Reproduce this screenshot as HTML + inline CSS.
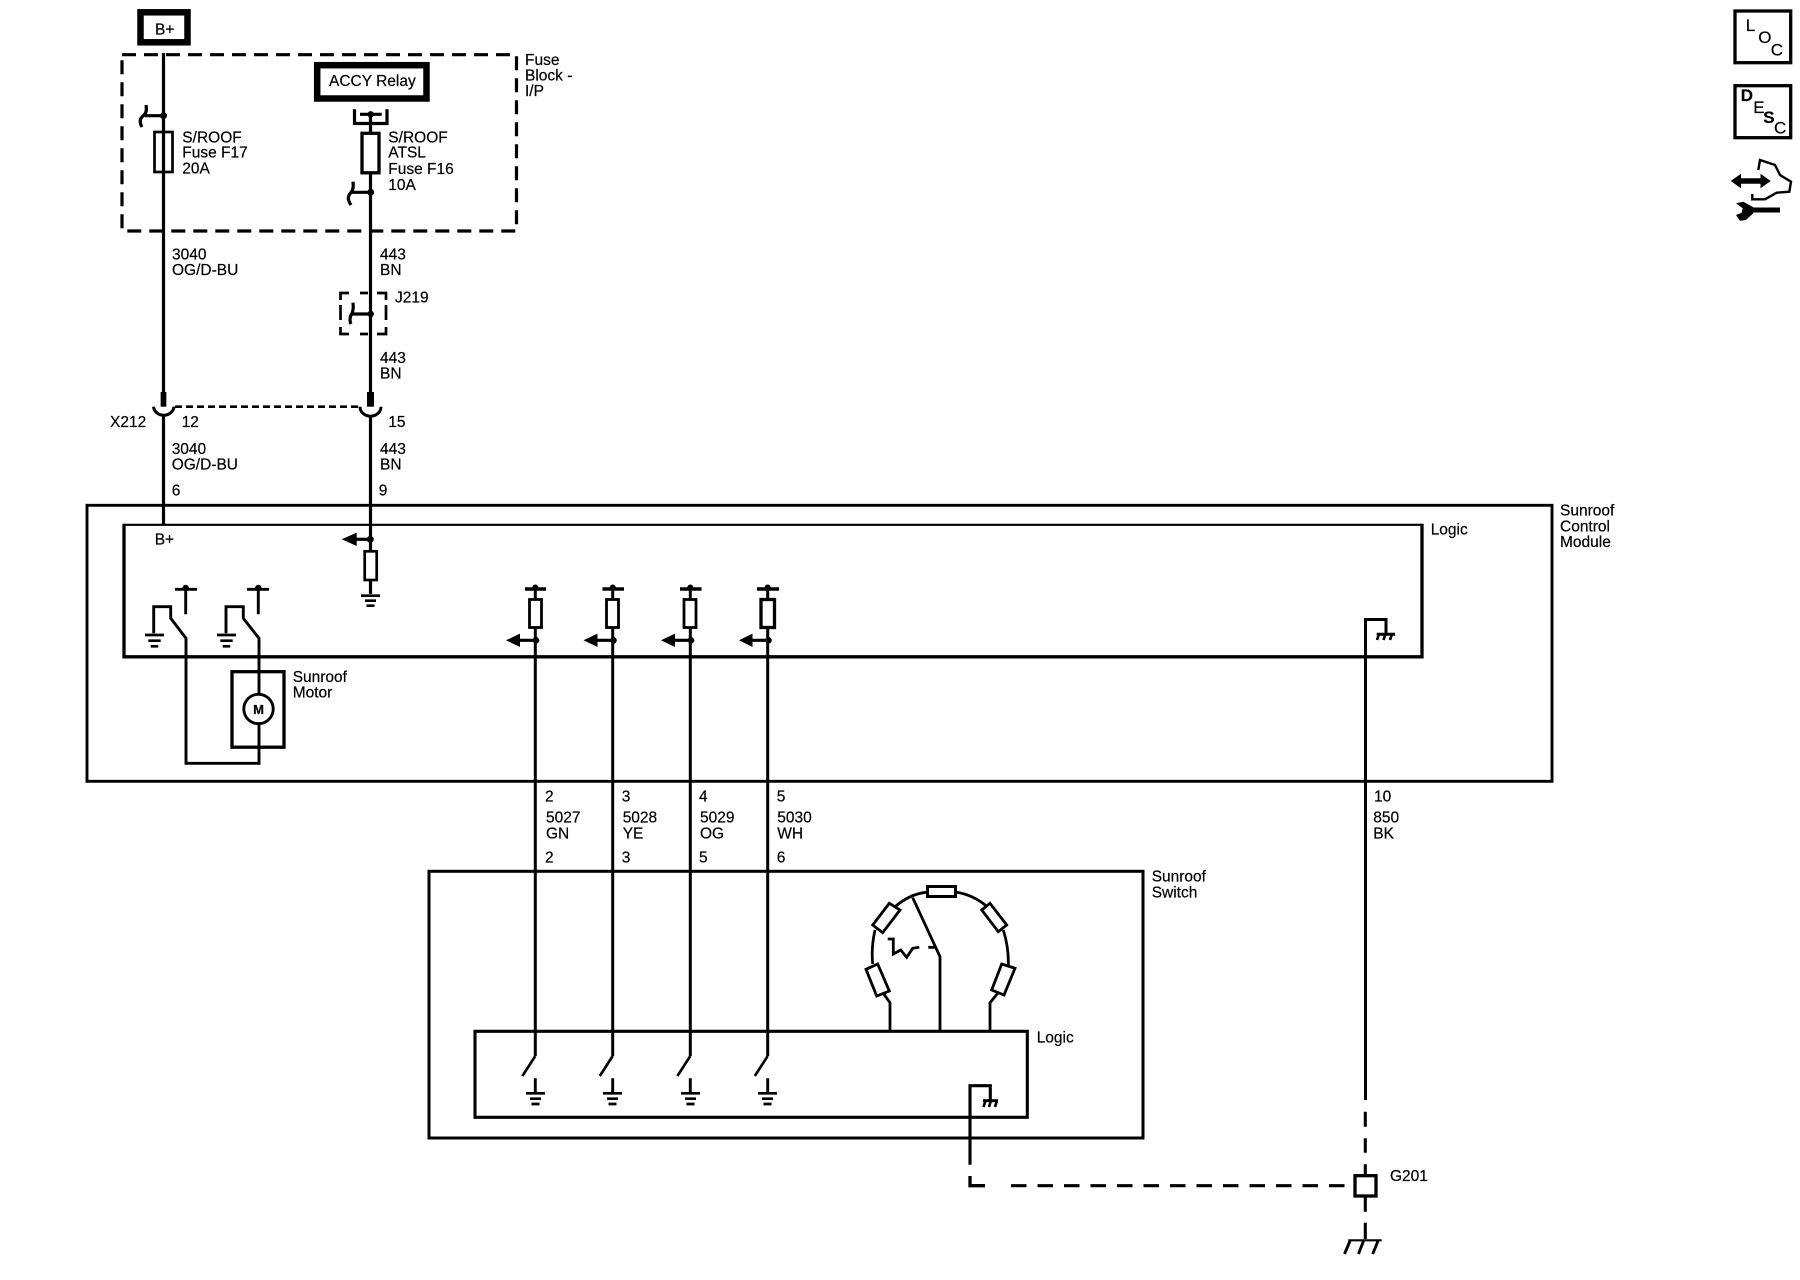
<!DOCTYPE html>
<html><head><meta charset="utf-8"><style>
html,body{margin:0;padding:0;background:#fff;}
svg{display:block;}
text{font-family:"Liberation Sans",sans-serif;font-size:15.5px;fill:#000;stroke:#000;stroke-width:.2px;}
</style></head><body>
<svg width="1800" height="1280" viewBox="0 0 1800 1280" xmlns="http://www.w3.org/2000/svg">
<g fill="none" stroke="#000" stroke-width="3.2">
<!-- top boxes -->
<rect x="140.5" y="12.3" width="47" height="30" stroke-width="6.5"/>
<rect x="317.2" y="65.2" width="109.3" height="33.3" stroke-width="6.5"/>
<rect x="122" y="54.7" width="394.5" height="176.3" stroke-dasharray="14 8"/>
<!-- wire 1 -->
<path d="M163.5 53V392M163.5 416V524"/>
<rect x="154.5" y="132" width="18" height="40" stroke-width="2.7"/>
<path d="M163.5 115.7H145M146 105Q147.5 113 143 116Q138 120 142 127"/>
<!-- wire 2 -->
<path d="M370.5 114V392M370.5 416V550M370.5 580V594"/>
<path d="M354.5 109.3V123.5H387V109.3M360 114.3H381.7"/>
<rect x="362" y="133.3" width="17" height="39.5" fill="#fff" stroke-width="3.3"/>
<path d="M370.5 192.3H351M353 181.7Q354 190 350.5 193Q346 198 351 205"/>
<path d="M349 293H340.5V300M360 293H368M377 293H386V300M340.5 305V320M386 305V320M340.5 327V334H349M360 334H368M377 334H386V327" stroke-width="2.7"/>
<path d="M370.5 314H351M353 302.7Q354 311 351 315Q349 320 351 324"/>
<!-- connector X212 -->
<path d="M163.5 392V406.7" stroke-width="5.7"/>
<path d="M370.5 392V406.7" stroke-width="7"/>
<path d="M153.5 406.7A10.3 9.5 0 0 0 174 406.7" stroke-width="3"/>
<path d="M360 406.7A10.5 9.5 0 0 0 381 406.7" stroke-width="3"/>
<path d="M175 406.7H359" stroke-width="2.7" stroke-dasharray="7 4"/>
<!-- module -->
<rect x="87" y="505.3" width="1465" height="276" stroke-width="2.9"/>
<path d="M124 524.8H1422" stroke-width="2.2"/>
<path d="M124 523.7V656.8H1422V523.7" stroke-width="3.3"/>
<!-- module input -->
<path d="M356 539.3H370.3"/>
<rect x="364.7" y="551.3" width="12" height="28.7" stroke-width="2.7"/>
<path d="M361 595.7H380M365 600.7H376M366.5 605.7H374.5" stroke-width="2.7"/>
<!-- relays -->
<path d="M175 589.3H197M185.7 588V614.3M247 589.3H269M258.3 588V614.3" stroke-width="2.9"/>
<path d="M153.7 633.3V606.7H170.7V618.3L186 638.3V763.3H259V638.3L243.3 618.3V606.7H226V633.3" stroke-width="2.9"/>
<path d="M145 635H164M148.3 640.7H160.7M150.7 646.3H158.3M217 635H236M220.3 640.7H232.7M222.7 646.3H230.3" stroke-width="2.7"/>
<rect x="232" y="671.7" width="52" height="75.5" stroke-width="3.3"/>
<circle cx="258.5" cy="709" r="14.7" fill="#fff" stroke-width="2.9"/>
<!-- channels -->
<path d="M535.3 589V1056M612.7 589V1056M690.3 589V1056M767.7 589V1056" stroke-width="3"/>
<path d="M535.3 1056L522.4 1076M612.7 1056L599.8 1076M690.3 1056L677.4 1076M767.7 1056L754.8 1076" stroke-width="2.6"/>
<g stroke-width="2.8">
<path d="M525 589H546M602.5 589H624M680 589H701.5M757 589H779" stroke-width="3.4"/>
<rect x="529.5" y="599.5" width="12" height="28" fill="#fff"/>
<rect x="606.5" y="599.5" width="12" height="28" fill="#fff"/>
<rect x="684" y="599.5" width="12" height="28" fill="#fff"/>
<rect x="761" y="599.5" width="13.5" height="28" fill="#fff" stroke-width="3.3"/>
<path d="M520 640.3H535M597.5 640.3H612.5M675 640.3H690M752.5 640.3H767.5" stroke-width="3.2"/>
</g>
<!-- grounds in switch -->
<path d="M535.3 1078.3V1093M612.7 1078.3V1093M690.3 1078.3V1093M767.7 1078.3V1093" stroke-width="2.9"/>
<path d="M526 1093.3H545M530 1098.7H541M531.5 1104H539.5M603 1093.3H622M607 1098.7H618M608.5 1104H616.5M681 1093.3H700M685 1098.7H696M686.5 1104H694.5M758 1093.3H777M762 1098.7H773M763.5 1104H771.5" stroke-width="2.7"/>
<!-- switch box -->
<rect x="429" y="871.3" width="714" height="266.7" stroke-width="3"/>
<rect x="475" y="1031.3" width="552.3" height="86" stroke-width="3.1"/>
<!-- resistor ladder -->
<rect x="927.5" y="886.5" width="28" height="10" stroke-width="3"/>
<polygon points="889.3,903.3 900,910 882.7,932.7 872.7,925" stroke-width="2.8" fill="#fff"/>
<polygon points="990,903.3 1006.7,925 998.3,931.7 981.7,910" stroke-width="2.8" fill="#fff"/>
<polygon points="866,969.3 877.7,964 889.3,991 876.7,996" stroke-width="2.8" fill="#fff"/>
<polygon points="1001.7,964 1015,968.3 1004,995 991.7,990" stroke-width="2.8" fill="#fff"/>
<path d="M926 892.3Q910 894 895 906.7M875 930Q871 948 872.7 964M956.7 892.3Q973 895 986 905.7M1003.3 930Q1009 948 1008.3 966.7" stroke-width="2.8"/>
<path d="M883.3 993.3L890 1002.7V1031.7M997.7 993.3L990 1002.7V1031.7M912.7 897.7L940 956.7V1031.7" stroke-width="2.8"/>
<path d="M887.7 939H893.3V954L900.7 950L906.7 957.3L912.7 948.3L919.3 947.3M928.3 947.3H936" stroke-width="2.8"/>
<!-- module ground -->
<path d="M1365.5 1100V619.5H1386V633" stroke-width="3"/>
<path d="M1376.7 634.3H1395" stroke-width="3"/>
<path d="M1379 634L1377 640M1385.5 634L1383.5 640M1392 634L1390 640" stroke-width="2.6"/>
<!-- switch ground -->
<path d="M970 1164.7V1085.7H990.3V1100" stroke-width="3.1"/>
<path d="M983 1100.7H998" stroke-width="3"/>
<path d="M985.5 1100.5L983.5 1107M991 1100.5L989 1107M997 1100.5L995 1107" stroke-width="2.6"/>
<!-- G201 -->
<path d="M970 1176V1185.7H985" stroke-width="3.3"/>
<path d="M1000 1185.7H1355" stroke-width="3.1" stroke-dasharray="15.5 11" stroke-dashoffset="-11"/>
<path d="M1365.3 1111.7V1126.7M1365.3 1138.3V1152.7M1365.3 1164.3V1175M1365.3 1196V1211.7M1365.3 1222.7V1239" stroke-width="3.1"/>
<rect x="1355" y="1175.7" width="21" height="20.3" stroke-width="3.3"/>
<path d="M1348.3 1240.3H1381.7" stroke-width="2.2"/>
<path d="M1350 1241L1344.5 1254M1363.5 1241L1358.5 1254M1378 1241L1372.7 1254" stroke-width="2.9"/>
<!-- right icons -->
<rect x="1735" y="11" width="55.7" height="51.7" stroke-width="3.3"/>
<rect x="1735" y="85.7" width="55.7" height="52" stroke-width="3.3"/>
<path d="M1758.3 170L1760 160L1775 165L1780 175L1791 181.7L1789.3 191.7L1776.7 192.7L1765 199.3H1752.3V194" stroke-width="2.4"/>
<path d="M1738 181H1764" stroke-width="5.5"/>
<path d="M1750 210H1780" stroke-width="5"/>
</g>
<g fill="#000" stroke="none">
<circle cx="163.5" cy="115.7" r="3.5"/>
<circle cx="370.7" cy="114.3" r="3.2"/>
<circle cx="370.7" cy="192.3" r="3.5"/>
<circle cx="370.7" cy="314" r="3.2"/>
<circle cx="370.3" cy="539.3" r="3.5"/>
<polygon points="341.7,539.3 356.7,532.6 356.7,546"/>
<circle cx="185.7" cy="588" r="3.2"/><circle cx="258.3" cy="588" r="3.2"/>
<circle cx="535.3" cy="587.5" r="3"/><circle cx="612.7" cy="587.5" r="3"/><circle cx="690.3" cy="587.5" r="3"/><circle cx="767.7" cy="587.5" r="3"/>
<circle cx="536" cy="640.3" r="3.3"/><circle cx="613.5" cy="640.3" r="3.3"/><circle cx="691" cy="640.3" r="3.3"/><circle cx="768.5" cy="640.3" r="3.3"/>
<polygon points="506,640.3 520,633.6 520,647"/>
<polygon points="583.5,640.3 597.5,633.6 597.5,647"/>
<polygon points="661,640.3 675,633.6 675,647"/>
<polygon points="739,640.3 752.5,633.6 752.5,647"/>
<polygon points="1730.7,181 1741,173.8 1741,188.2"/>
<polygon points="1770.7,181 1760.5,173.8 1760.5,188.2"/>
<polygon points="1736,203.3 1743.3,201.7 1753.3,207.3 1753.3,213.3 1746,220 1740,220.7 1736,215 1741.7,212.7 1742.7,208.3"/>
</g>
<text x="155" y="34.5">B+</text>
<text x="329" y="86">ACCY Relay</text>
<text x="525" y="65">Fuse</text><text x="525" y="80.3">Block -</text><text x="525" y="96">I/P</text>
<text x="182.3" y="142.3">S/ROOF</text><text x="182.3" y="157.7">Fuse F17</text><text x="182.3" y="173.3">20A</text>
<text x="388.3" y="142.3">S/ROOF</text><text x="388.3" y="157.7">ATSL</text><text x="388.3" y="174">Fuse F16</text><text x="388.3" y="190">10A</text>
<text x="172" y="259.3">3040</text><text x="172" y="275">OG/D-BU</text>
<text x="380" y="259.3">443</text><text x="380" y="275">BN</text>
<text x="395" y="302.7">J219</text>
<text x="380" y="363">443</text><text x="380" y="378.5">BN</text>
<text x="110" y="427">X212</text><text x="181.7" y="427">12</text><text x="388.3" y="427">15</text>
<text x="171.7" y="454">3040</text><text x="171.7" y="469.3">OG/D-BU</text>
<text x="380" y="454">443</text><text x="380" y="469.3">BN</text>
<text x="171.7" y="495.3">6</text><text x="378.7" y="495.3">9</text>
<text x="154.7" y="544.7">B+</text>
<text x="1430.7" y="534.3">Logic</text>
<text x="1560" y="515.3">Sunroof</text><text x="1560" y="531.3">Control</text><text x="1560" y="547">Module</text>
<text x="292.7" y="682">Sunroof</text><text x="292.7" y="697.7">Motor</text>
<text x="258.5" y="714" text-anchor="middle" style="font-size:13px;font-weight:bold">M</text>
<text x="545" y="801.7">2</text><text x="621.7" y="801.7">3</text><text x="699" y="801.7">4</text><text x="776.7" y="801.7">5</text><text x="1374" y="801.7">10</text>
<text x="546" y="822.7">5027</text><text x="622.7" y="822.7">5028</text><text x="700" y="822.7">5029</text><text x="777.3" y="822.7">5030</text><text x="1373.3" y="822.7">850</text>
<text x="546" y="838.3">GN</text><text x="622.7" y="838.3">YE</text><text x="700" y="838.3">OG</text><text x="777.3" y="838.3">WH</text><text x="1373.3" y="838.3">BK</text>
<text x="545" y="862.7">2</text><text x="621.7" y="862.7">3</text><text x="699" y="862.7">5</text><text x="776.7" y="862.7">6</text>
<text x="1151.7" y="881.7">Sunroof</text><text x="1151.7" y="897.3">Switch</text>
<text x="1036.7" y="1042.3">Logic</text>
<text x="1390" y="1181">G201</text>
<text x="1745.7" y="31" style="font-size:17px">L</text><text x="1758.3" y="43" style="font-size:17px">O</text><text x="1770.7" y="55.3" style="font-size:17px">C</text>
<text x="1740.7" y="101" style="font-size:17px;font-weight:bold">D</text><text x="1753.3" y="113" style="font-size:17px">E</text><text x="1763.3" y="123" style="font-size:17px;font-weight:bold">S</text><text x="1774" y="133.5" style="font-size:17px">C</text>
</svg>
</body></html>
